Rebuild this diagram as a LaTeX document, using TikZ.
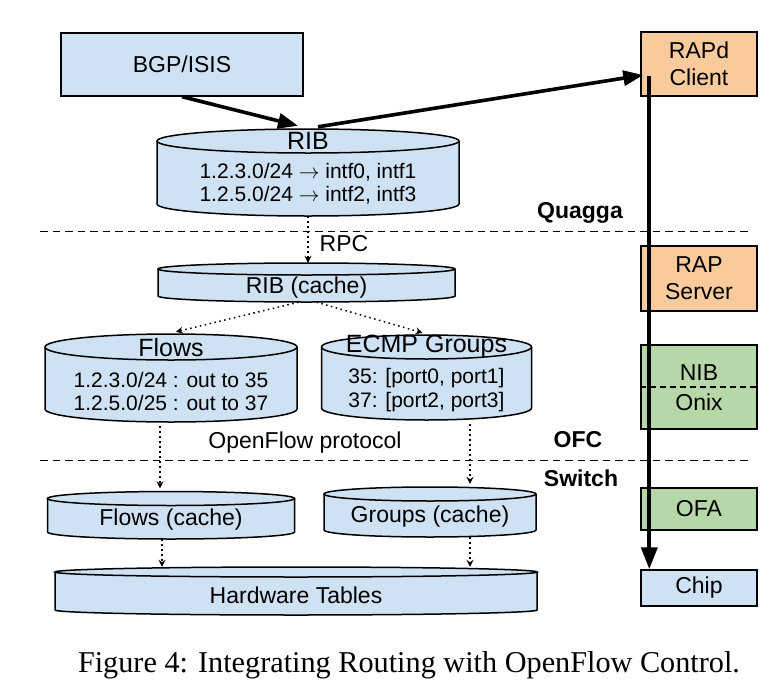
\documentclass[tikz,border=0pt]{standalone}
\usepackage{fontspec}
\usepackage{graphicx}
\setsansfont{Liberation Sans}
\newfontfamily\capfont{Liberation Serif}
\usetikzlibrary{arrows.meta,calc}
\definecolor{cblue}{HTML}{CFE2F3}
\definecolor{corange}{HTML}{F9CB9C}
\definecolor{cgreen}{HTML}{B6D7A8}
\tikzset{
  outl/.style={draw=black, line width=1.5pt},
  box/.style={draw=black, line width=1.4pt, inner sep=0pt, align=center,
    font=\sffamily\fontsize{23}{27}\selectfont},
  lbl/.style={font=\sffamily\fontsize{21}{25}\selectfont, inner sep=0pt},
  ttl/.style={font=\sffamily\fontsize{25}{30}\selectfont, inner sep=0pt},
  midtxt/.style={font=\sffamily\fontsize{23}{27}\selectfont, inner sep=0pt},
  layer/.style={font=\sffamily\bfseries\fontsize{23}{27}\selectfont, inner sep=0pt},
  sepline/.style={line width=1.6pt, dash pattern=on 7.5pt off 5pt},
  dotarrow/.style={line width=1.5pt, dash pattern=on 1.5pt off 3.5pt,
    -{Stealth[length=7pt,width=7pt,inset=2.5pt]}},
  thickarrow/.style={line width=3.6pt, -{Triangle[length=20pt,width=15pt]}},
}
\newcommand\mycyl[6]{%
  \fill[cblue] (#2-#3,#4) -- (#2-#3,#5) arc[start angle=180,end angle=0,x radius=#3,y radius=#6] -- (#2+#3,#4) -- cycle;
  \draw[outl] (#2-#3,#4) -- (#2-#3,#5) arc[start angle=180,end angle=0,x radius=#3,y radius=#6] -- (#2+#3,#4);
  \filldraw[outl,fill=cblue] (#2,#4) ellipse [x radius=#3, y radius=#6];
  \pgfmathsetmacro\cylh{#5-#4+2*#6}%
  \pgfmathsetmacro\cylw{2*#3}%
  \pgfmathsetmacro\cylc{(#4+#5)/2}%
  \node[inner sep=0pt, minimum width=\cylw pt, minimum height=\cylh pt] (#1) at (#2,\cylc) {};
}
\begin{document}
\begin{tikzpicture}[x=1pt,y=-1pt]
\useasboundingbox (0,0) rectangle (772,691);
\fill[white] (0,0) rectangle (772,691);

% left column boxes
\node[box, fill=cblue, minimum width=242pt, minimum height=63pt] (bgp) at (182,64.5) {BGP/ISIS};

\mycyl{rib}{308}{151}{141}{204}{12}
\node[ttl] (ribt) at (308,141) {RIB};
\node[lbl] (rib1) at (308,172) {1.2.3.0/24 $\rightarrow$ intf0, intf1};
\node[lbl] (rib2) at (308,195) {1.2.5.0/24 $\rightarrow$ intf2, intf3};

\mycyl{ribc}{306.5}{148.5}{269}{296}{6}
\node[midtxt] (ribct) at (306.5,288) {RIB (cache)};

\mycyl{flows}{171}{126}{347}{409}{13}
\node[ttl] (flowst) at (171,348) {Flows};
\node[lbl] (flows1) at (171,380) {1.2.3.0/24 : out to 35};
\node[lbl] (flows2) at (171,403) {1.2.5.0/25 : out to 37};

\mycyl{ecmp}{426.5}{105}{347}{408}{12}
\node[ttl] (ecmpt) at (426.5,346) {ECMP Groups};
\node[lbl] (ecmp1) at (426.5,378) {35: [port0, port1]};
\node[lbl] (ecmp2) at (426.5,402) {37: [port2, port3]};

\mycyl{flowsc}{171}{123.5}{498.5}{532}{7}
\node[midtxt] (flowsct) at (171,520) {Flows (cache)};

\mycyl{groupsc}{430}{106}{494}{530}{7}
\node[midtxt] (groupsct) at (430,517) {Groups (cache)};

\mycyl{hw}{296}{241}{572}{610}{5}
\node[midtxt] (hwt) at (296,595) {Hardware Tables};

% separators and layer labels
\draw[sepline] (40,231.5) -- (750,231.5);
\draw[sepline] (40,460.5) -- (750,460.5);
\node[layer] (quagga) at (580,213) {Quagga};
\node[layer] (ofc) at (578,440) {OFC};
\node[layer] (switch) at (581,478) {Switch};
\node[midtxt] (rpc) at (344,244) {RPC};
\node[midtxt] (ofp) at (305,443) {OpenFlow protocol};

% right column
\node[box, fill=corange, minimum width=116pt, minimum height=64pt] (rapd) at (699,64) {RAPd\\Client};
\node[box, fill=corange, minimum width=116pt, minimum height=65pt] (rap) at (699,278.5) {RAP\\Server};
\node[box, fill=cgreen, minimum width=116pt, minimum height=84pt] (nib) at (699,387) {};
\node[midtxt] (nibt) at (699,373) {NIB};
\node[midtxt] (onixt) at (699,402) {Onix};
\draw[line width=1.5pt, dash pattern=on 6pt off 4pt] (nib.west) -- (nib.east);
\node[box, fill=cgreen, minimum width=116pt, minimum height=42pt] (ofa) at (699,509) {OFA};
\node[box, fill=cblue, minimum width=116pt, minimum height=36pt] (chip) at (699,588) {Chip};

% dotted arrows
\draw[dotarrow] (rib.south) -- (rib.south |- ribc.north);
\draw[dotarrow] ([xshift=-8pt]ribc.south) -- ([xshift=5pt,yshift=2pt]flows.north);
\draw[dotarrow] ([xshift=10pt]ribc.south) -- ([xshift=-4pt,yshift=2pt]ecmp.north);
\coordinate (fa) at ([xshift=-11pt,yshift=-4pt]flows.south);
\draw[dotarrow] (fa) -- ([yshift=3pt]fa |- flowsc.north);
\coordinate (ea) at ([xshift=43.5pt,yshift=-4pt]ecmp.south);
\draw[dotarrow] (ea) -- ([yshift=3pt]ea |- groupsc.north);
\coordinate (fb) at ([xshift=-9pt]flowsc.south);
\draw[dotarrow] (fb) -- (fb |- hw.north);
\coordinate (gb) at ([xshift=40pt]groupsc.south);
\draw[dotarrow] (gb) -- (gb |- hw.north);

% thick arrows
\draw[thickarrow] (bgp.south) -- ([xshift=-10pt,yshift=3pt]rib.north);
\coordinate (rapin) at ([xshift=3pt,yshift=-11pt]rapd.west);
\draw[thickarrow] ([xshift=10pt,yshift=2pt]rib.north) -- (rapin);
\coordinate (vtop) at ([xshift=9pt,yshift=-12pt]rapd.west);
\draw[line width=4pt, -{Triangle[length=22pt,width=16pt]}] (vtop) -- (vtop |- chip.north);

% caption
\node[inner sep=0pt] (cap) at (409,665) {\resizebox{662pt}{!}{\capfont Figure 4: Integrating Routing with OpenFlow Control.}};
\end{tikzpicture}
\end{document}
